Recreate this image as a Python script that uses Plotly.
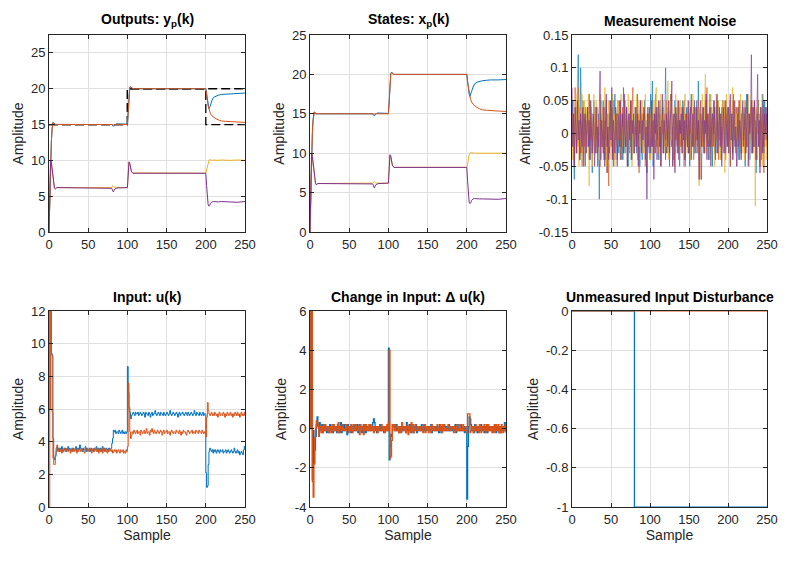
import plotly.graph_objects as go

# ---------------- data ----------------
samples_ticks = [0, 50, 100, 150, 200, 250]
samples_ticktext = ["0", "50", "100", "150", "200", "250"]

# key samples for the smooth output / state trajectories
k_key = [0, 1, 2, 3, 4, 5, 6, 7, 8, 9, 10,
         80, 81, 82, 83, 84, 86, 88,
         100, 101, 102, 103, 104, 105, 107, 110,
         200, 201, 202, 203, 204, 205, 206, 208, 210, 213, 216, 220, 225, 230, 240, 250]

y1 = [0, 5, 10, 12.6, 14.4, 15.3, 15.2, 15.05, 15.0, 15.0, 15.02,
      15.0, 14.85, 14.75, 14.9, 15.0, 15.1, 15.1,
      15.05, 16.6, 18.9, 20.2, 20.3, 20.15, 20.05, 20.0,
      20.0, 19.2, 18.2, 17.4, 17.2, 17.4, 17.8, 18.4, 18.8, 19.0, 19.1, 19.2, 19.25, 19.3, 19.35, 19.4]
y2 = [0, 5, 10, 12.6, 14.4, 15.3, 15.25, 15.05, 15.0, 15.02, 15.0,
      15.0, 14.95, 14.9, 15.0, 15.02, 15.0, 15.0,
      15.0, 16.6, 18.9, 20.2, 20.25, 20.1, 20.02, 20.0,
      20.0, 19.0, 18.2, 17.6, 17.2, 16.8, 16.5, 16.2, 16.0, 15.8, 15.65, 15.5, 15.45, 15.4, 15.35, 15.3]
y3 = [0, 5, 10, 9.7, 8.8, 7.6, 6.6, 6.1, 6.0, 6.1, 6.2,
      6.2, 6.45, 6.4, 6.3, 6.2, 6.25, 6.2,
      6.2, 8.0, 9.7, 9.6, 9.0, 8.5, 8.2, 8.25,
      8.2, 8.6, 9.3, 9.8, 10.0, 10.1, 10.05, 10.0, 10.05, 10.0, 10.0, 10.05, 10.0, 10.0, 10.05, 10.0]
y4 = [0, 5, 10, 9.7, 8.8, 7.6, 6.6, 6.1, 6.0, 6.1, 6.2,
      6.1, 5.7, 5.6, 5.8, 6.0, 6.1, 6.15,
      6.2, 8.0, 9.8, 9.6, 9.0, 8.5, 8.2, 8.2,
      8.2, 6.5, 4.8, 3.8, 3.6, 3.7, 4.0, 4.2, 4.25, 4.2, 4.2, 4.25, 4.2, 4.2, 4.15, 4.25]

x1 = [0, 5, 10, 12.5, 14.3, 15.2, 15.2, 15.0, 14.95, 15.0, 15.0,
      15.0, 14.8, 14.75, 14.85, 15.0, 15.1, 15.1,
      15.05, 16.5, 18.8, 20.1, 20.3, 20.15, 20.0, 20.0,
      20.0, 19.2, 18.2, 17.5, 17.2, 17.4, 17.8, 18.4, 18.8, 19.0, 19.1, 19.2, 19.25, 19.3, 19.3, 19.35]
x2 = [0, 5, 10, 12.5, 14.3, 15.2, 15.25, 15.05, 15.0, 15.0, 15.0,
      15.0, 14.95, 14.95, 15.0, 15.0, 15.0, 15.0,
      15.0, 16.5, 18.8, 20.1, 20.25, 20.1, 20.0, 20.0,
      20.0, 19.0, 18.2, 17.6, 17.2, 16.8, 16.5, 16.2, 16.0, 15.8, 15.65, 15.5, 15.45, 15.4, 15.35, 15.3]
x3 = [0, 5, 10, 9.6, 8.7, 7.6, 6.7, 6.2, 6.0, 6.05, 6.15,
      6.2, 6.4, 6.4, 6.3, 6.2, 6.2, 6.2,
      6.2, 8.0, 9.7, 9.6, 9.0, 8.5, 8.2, 8.2,
      8.2, 8.6, 9.3, 9.8, 10.0, 10.1, 10.05, 10.0, 10.0, 10.0, 10.0, 10.0, 10.0, 10.0, 10.0, 10.0]
x4 = [0, 5, 10, 9.6, 8.7, 7.6, 6.7, 6.2, 6.0, 6.05, 6.15,
      6.1, 5.7, 5.6, 5.8, 6.0, 6.1, 6.15,
      6.2, 8.0, 9.8, 9.6, 9.0, 8.5, 8.2, 8.2,
      8.2, 6.5, 4.8, 3.8, 3.6, 3.7, 4.0, 4.2, 4.25, 4.2, 4.2, 4.2, 4.2, 4.2, 4.15, 4.25]

# setpoints (stairs)
r_k = [0, 100, 200, 250]
r1 = [15, 20, 20, 20]
r2 = [15, 20, 15, 15]

# measurement noise, one value per sample k = 0..250
noise1 = [0.02, 0.05, -0.03, -0.07, 0.01, 0.04, -0.02, 0.06, 0.12, 0.03,
          -0.04, 0.10, 0.02, -0.03, 0.05, -0.01, 0.03, -0.05, 0.02, 0.00,
          0.04, -0.02, 0.06, -0.04, 0.01, 0.03, -0.06, 0.02, 0.05, -0.01,
          -0.03, 0.04, 0.00, -0.05, 0.03, -0.10, 0.02, 0.05, -0.02, 0.01,
          0.05, -0.04, 0.02, -0.01, 0.04, -0.06, 0.03, 0.00, -0.03, 0.05,
          0.01, -0.02, 0.04, -0.05, 0.02, 0.06, -0.01, 0.03, -0.04, 0.02,
          -0.03, 0.05, 0.01, -0.02, 0.03, -0.04, 0.07, 0.00, -0.03, 0.02,
          0.04, -0.01, -0.05, 0.03, 0.01, -0.02, 0.05, -0.04, 0.02, 0.00,
          -0.02, 0.04, 0.01, -0.03, 0.06, -0.01, 0.02, -0.05, 0.03, 0.01,
          -0.04, 0.03, 0.00, 0.05, -0.02, 0.02, -0.06, 0.04, 0.01, -0.03,
          0.02, 0.06, -0.02, 0.08, -0.05, 0.03, 0.01, -0.03, 0.04, -0.01,
          0.03, -0.04, 0.02, 0.05, -0.02, 0.00, 0.04, -0.03, 0.02, 0.01,
          0.10, -0.03, 0.04, -0.01, 0.02, -0.05, 0.03, 0.06, -0.02, 0.01,
          -0.04, 0.02, 0.05, -0.01, 0.03, -0.03, 0.00, 0.04, -0.05, 0.02,
          0.01, -0.02, 0.05, 0.03, -0.04, 0.02, -0.01, 0.04, 0.00, -0.03,
          0.03, -0.05, 0.02, 0.06, -0.02, 0.01, 0.04, -0.03, 0.02, -0.01,
          0.05, -0.02, 0.08, -0.04, 0.01, 0.03, -0.07, 0.02, 0.00, 0.04,
          -0.03, 0.02, 0.05, -0.01, 0.03, -0.04, 0.02, 0.06, -0.02, 0.01,
          -0.05, 0.03, 0.00, 0.04, -0.02, 0.02, -0.03, 0.05, 0.01, -0.01,
          0.03, -0.04, 0.02, 0.05, 0.00, -0.02, 0.04, -0.03, 0.01, 0.02,
          -0.02, 0.04, 0.01, -0.05, 0.03, 0.02, -0.03, 0.06, -0.01, 0.02,
          0.04, -0.02, 0.03, 0.00, -0.04, 0.05, 0.01, -0.03, 0.02, 0.04,
          -0.01, 0.03, -0.05, 0.02, 0.06, -0.02, 0.01, 0.03, -0.04, 0.02,
          0.05, -0.03, 0.01, 0.04, -0.02, 0.02, -0.06, 0.03, 0.00, 0.05,
          -0.02, 0.03, 0.01, -0.04, 0.06, 0.02, -0.03, 0.05, -0.01, 0.03,
          0.01]
noise2 = [-0.02, 0.03, 0.01, -0.04, 0.07, 0.02, -0.03, 0.05, 0.07, -0.02,
          0.04, -0.03, 0.02, -0.05, 0.03, 0.01, -0.02, 0.04, -0.03, 0.02,
          0.00, 0.03, -0.04, 0.05, -0.01, 0.02, -0.03, 0.01, 0.04, -0.02,
          0.03, -0.01, 0.04, -0.03, 0.02, 0.00, -0.05, 0.03, 0.01, -0.02,
          0.04, -0.03, 0.02, -0.04, 0.05, -0.06, 0.01, -0.08, 0.03, 0.00,
          -0.02, 0.04, -0.03, 0.05, 0.01, -0.04, 0.02, 0.03, -0.02, 0.05,
          -0.01, 0.02, -0.04, 0.03, 0.00, 0.04, -0.03, 0.01, 0.05, -0.02,
          0.03, -0.05, 0.02, 0.01, -0.03, 0.04, -0.01, 0.02, 0.07, -0.03,
          0.01, -0.02, 0.04, 0.00, -0.04, 0.03, -0.06, 0.02, 0.05, -0.01,
          0.03, -0.03, 0.02, 0.04, -0.05, 0.01, 0.00, -0.02, 0.03, 0.01,
          -0.04, 0.02, 0.05, -0.01, 0.03, -0.03, 0.02, 0.06, -0.02, 0.00,
          0.04, -0.03, 0.01, 0.03, -0.05, 0.02, 0.00, 0.04, -0.02, 0.03,
          -0.01, 0.05, -0.03, 0.02, 0.01, -0.04, 0.03, 0.06, -0.02, 0.01,
          0.03, -0.05, 0.02, 0.04, -0.01, 0.02, -0.03, 0.05, 0.00, -0.02,
          0.04, 0.01, -0.03, 0.02, 0.05, -0.04, 0.01, 0.03, -0.02, 0.04,
          -0.03, 0.02, 0.00, 0.05, -0.02, 0.03, -0.04, 0.01, 0.04, -0.01,
          0.02, -0.03, 0.05, 0.01, -0.07, 0.03, 0.02, -0.02, 0.04, 0.00,
          -0.03, 0.05, 0.01, 0.07, -0.02, 0.03, -0.04, 0.02, 0.00, 0.04,
          -0.02, 0.03, 0.05, -0.03, 0.01, 0.04, -0.01, 0.02, -0.04, 0.03,
          0.01, -0.02, 0.04, 0.02, -0.03, 0.05, 0.00, -0.04, 0.03, 0.01,
          0.04, -0.02, 0.03, -0.05, 0.02, 0.01, 0.05, -0.03, 0.02, 0.00,
          -0.03, 0.04, 0.02, -0.01, 0.05, -0.04, 0.02, 0.03, -0.02, 0.01,
          0.03, -0.03, 0.05, 0.00, -0.02, 0.04, 0.01, -0.04, 0.03, 0.02,
          -0.01, 0.04, -0.03, 0.02, 0.05, -0.02, 0.01, -0.04, 0.03, 0.00,
          0.02, -0.05, 0.04, 0.01, -0.03, 0.03, -0.06, 0.02, 0.04, -0.02,
          0.03]
noise3 = [0.03, -0.04, 0.05, 0.01, -0.03, 0.06, -0.01, 0.09, 0.02, -0.05,
          0.04, -0.02, 0.03, 0.06, -0.04, 0.01, 0.05, -0.03, 0.02, 0.04,
          -0.02, 0.06, -0.08, 0.03, 0.01, 0.04, -0.05, 0.02, 0.06, -0.03,
          0.01, 0.05, -0.02, 0.04, 0.00, -0.04, 0.03, 0.06, -0.02, 0.01,
          0.04, -0.03, 0.07, 0.02, -0.05, 0.03, 0.00, 0.05, -0.02, 0.04,
          -0.04, 0.02, 0.06, -0.01, 0.03, -0.05, 0.04, 0.01, -0.02, 0.05,
          0.02, -0.03, 0.04, 0.06, -0.02, 0.01, -0.04, 0.05, 0.02, -0.01,
          0.03, -0.04, 0.06, 0.01, -0.02, 0.05, 0.00, -0.05, 0.03, 0.02,
          -0.03, 0.04, 0.01, 0.06, -0.04, 0.02, 0.05, -0.02, 0.03, -0.01,
          0.05, -0.03, 0.02, 0.00, 0.06, -0.05, 0.03, 0.01, -0.02, 0.04,
          0.02, -0.04, 0.06, 0.01, -0.03, 0.05, -0.01, 0.03, 0.07, -0.02,
          0.04, 0.00, -0.04, 0.03, 0.06, -0.02, 0.02, 0.05, -0.03, 0.01,
          0.06, -0.02, 0.03, 0.08, -0.04, 0.02, 0.05, -0.01, 0.03, -0.05,
          0.02, 0.04, -0.03, 0.06, 0.01, -0.02, 0.04, 0.00, -0.04, 0.05,
          0.03, -0.01, 0.02, -0.05, 0.04, 0.06, -0.03, 0.01, 0.03, -0.02,
          0.05, 0.01, -0.04, 0.03, 0.00, 0.06, -0.02, 0.04, -0.03, 0.02,
          -0.01, 0.05, 0.02, -0.08, 0.04, 0.01, -0.03, 0.06, 0.02, -0.02,
          0.04, 0.09, -0.03, 0.02, 0.05, -0.01, 0.03, -0.04, 0.06, 0.01,
          -0.02, 0.04, 0.02, -0.05, 0.03, 0.06, 0.00, -0.03, 0.05, 0.02,
          -0.04, 0.03, 0.01, 0.05, -0.02, 0.04, -0.06, 0.02, 0.06, 0.00,
          0.03, -0.03, 0.05, 0.01, -0.02, 0.04, 0.07, -0.04, 0.02, 0.05,
          -0.01, 0.03, -0.05, 0.04, 0.02, -0.02, 0.06, 0.01, -0.03, 0.04,
          0.02, -0.04, 0.05, 0.00, 0.03, -0.02, 0.06, -0.05, 0.02, 0.04,
          -0.03, 0.01, 0.05, -0.02, 0.03, -0.11, 0.04, 0.02, -0.04, 0.05,
          0.01, -0.03, 0.04, 0.02, -0.05, 0.06, 0.00, -0.02, 0.03, -0.04,
          0.02]
noise4 = [0.07, -0.02, 0.03, -0.05, 0.04, 0.01, -0.03, 0.05, -0.01, 0.02,
          -0.04, 0.03, 0.00, -0.02, 0.04, -0.05, 0.02, 0.03, -0.03, 0.01,
          0.04, -0.02, 0.02, -0.04, 0.05, 0.00, -0.03, 0.03, 0.01, -0.05,
          0.02, 0.04, -0.03, 0.01, -0.02, 0.05, 0.095, -0.04, 0.02, 0.00,
          -0.03, 0.04, -0.05, 0.02, 0.06, -0.02, 0.01, -0.04, 0.03, 0.05,
          -0.01, 0.07, -0.04, 0.02, 0.00, -0.03, 0.04, 0.01, -0.05, 0.03,
          0.02, -0.02, 0.05, -0.04, 0.01, 0.03, -0.03, 0.06, 0.00, -0.02,
          0.04, -0.05, 0.02, 0.03, -0.01, 0.05, -0.04, 0.02, 0.00, 0.03,
          -0.03, 0.01, 0.04, -0.02, 0.03, -0.05, 0.02, 0.00, 0.05, -0.03,
          0.02, -0.01, 0.04, 0.03, -0.04, 0.01, -0.10, 0.03, -0.02, 0.04,
          0.01, -0.03, 0.05, -0.02, 0.02, -0.07, 0.03, 0.00, 0.04, -0.04,
          0.02, 0.05, -0.02, 0.01, -0.05, 0.03, 0.06, -0.03, 0.02, 0.00,
          -0.04, 0.03, 0.01, -0.02, 0.05, -0.03, 0.02, 0.04, 0.08, -0.05,
          0.02, 0.03, -0.06, 0.04, 0.01, -0.02, 0.05, -0.04, 0.02, 0.00,
          0.03, -0.03, 0.04, -0.01, 0.02, -0.05, 0.03, 0.01, -0.02, 0.05,
          -0.03, 0.02, 0.04, -0.04, 0.01, 0.03, -0.02, 0.05, 0.00, -0.03,
          0.04, -0.01, 0.02, -0.07, 0.03, 0.05, -0.02, 0.01, 0.04, -0.03,
          0.02, 0.00, 0.06, -0.04, 0.03, 0.01, -0.02, 0.04, -0.05, 0.02,
          0.03, -0.02, 0.05, 0.01, -0.04, 0.02, 0.06, -0.03, 0.01, 0.04,
          -0.02, 0.03, -0.05, 0.02, 0.04, 0.00, -0.03, 0.05, 0.01, -0.02,
          0.04, -0.03, 0.02, 0.06, -0.01, 0.03, -0.04, 0.02, 0.05, -0.02,
          0.01, -0.05, 0.03, 0.04, -0.02, 0.02, 0.00, -0.04, 0.03, 0.05,
          -0.02, 0.01, 0.04, -0.03, 0.02, 0.06, -0.05, 0.03, 0.00, 0.02,
          0.12, -0.03, 0.04, -0.02, 0.05, 0.01, -0.04, 0.03, 0.09, -0.02,
          0.02, -0.06, 0.04, 0.01, -0.03, 0.05, -0.02, 0.03, 0.00, 0.04,
          -0.01]

# manipulated inputs u(k), k = 0..250
u1 = [6.0, 12.0, 12.0, 9.4, 9.3, 4.2, 3.0, 2.9, 3.1, 3.4,
      3.7, 3.5, 3.6, 3.4, 3.6, 3.5, 3.7, 3.5, 3.4, 3.6,
      3.5, 3.6, 3.4, 3.5, 3.7, 3.5, 3.6, 3.4, 3.5, 3.6,
      3.4, 3.6, 3.5, 3.5, 3.7, 3.4, 3.5, 3.6, 3.5, 3.8,
      3.6, 3.5, 3.4, 3.6, 3.5, 3.5, 3.7, 3.4, 3.6, 3.5,
      3.5, 3.6, 3.4, 3.5, 3.6, 3.5, 3.4, 3.6, 3.5, 3.5,
      3.7, 3.5, 3.4, 3.6, 3.5, 3.6, 3.4, 3.5, 3.7, 3.5,
      3.6, 3.4, 3.5, 3.6, 3.5, 3.4, 3.6, 3.5, 3.5, 3.6,
      3.9, 4.2, 4.7, 4.6, 4.7, 4.5, 4.6, 4.6, 4.5, 4.7,
      4.6, 4.5, 4.6, 4.7, 4.5, 4.6, 4.5, 4.6, 4.5, 4.6,
      8.6, 7.0, 6.1, 5.8, 5.4, 5.6, 5.7, 5.8, 5.7, 5.6,
      5.8, 5.7, 5.7, 5.8, 5.6, 5.7, 5.8, 5.7, 5.6, 5.7,
      5.8, 5.7, 5.5, 5.8, 5.7, 5.7, 5.6, 5.8, 5.7, 5.5,
      5.7, 5.8, 5.6, 5.7, 5.7, 5.9, 5.7, 5.6, 5.7, 5.8,
      5.7, 5.6, 5.8, 5.7, 5.7, 5.6, 5.8, 5.7, 5.6, 5.7,
      5.8, 5.7, 5.6, 5.7, 5.9, 5.7, 5.6, 5.7, 5.8, 5.7,
      5.6, 5.7, 5.8, 5.7, 5.5, 5.7, 5.8, 5.6, 5.7, 5.7,
      5.8, 5.7, 5.6, 5.7, 5.8, 5.7, 5.6, 5.8, 5.7, 5.6,
      5.7, 5.8, 5.7, 5.6, 5.7, 5.9, 5.7, 5.6, 5.8, 5.7,
      5.7, 5.6, 5.8, 5.7, 5.6, 5.7, 5.8, 5.6, 5.7, 5.7,
      2.1, 1.2, 1.3, 2.6, 3.4, 3.6, 3.5, 3.4, 3.5, 3.3,
      3.5, 3.4, 3.5, 3.3, 3.4, 3.5, 3.4, 3.3, 3.5, 3.4,
      3.4, 3.5, 3.3, 3.4, 3.4, 3.5, 3.3, 3.4, 3.5, 3.4,
      3.3, 3.4, 3.5, 3.4, 3.3, 3.4, 3.6, 3.4, 3.3, 3.4,
      3.5, 3.3, 3.4, 3.2, 3.3, 3.4, 3.3, 3.2, 3.5, 3.7,
      3.5]
u2 = [0.0, 6.0, 12.0, 9.3, 5.8, 3.0, 2.6, 2.6, 3.2, 3.6,
      3.8, 3.4, 3.5, 3.6, 3.4, 3.5, 3.3, 3.5, 3.4, 3.6,
      3.5, 3.4, 3.5, 3.6, 3.4, 3.5, 3.5, 3.3, 3.5, 3.4,
      3.6, 3.5, 3.4, 3.5, 3.5, 3.3, 3.6, 3.4, 3.5, 3.5,
      3.4, 3.6, 3.5, 3.5, 3.4, 3.3, 3.5, 3.5, 3.6, 3.4,
      3.5, 3.4, 3.6, 3.5, 3.3, 3.5, 3.5, 3.4, 3.6, 3.5,
      3.4, 3.5, 3.6, 3.3, 3.5, 3.4, 3.5, 3.6, 3.3, 3.5,
      3.4, 3.6, 3.5, 3.4, 3.3, 3.5, 3.4, 3.6, 3.5, 3.4,
      3.5, 3.3, 3.4, 3.5, 3.4, 3.5, 3.3, 3.4, 3.5, 3.4,
      3.3, 3.5, 3.4, 3.4, 3.5, 3.3, 3.4, 3.3, 3.5, 3.4,
      3.7, 7.6, 6.0, 4.6, 4.2, 4.4, 4.6, 4.5, 4.7, 4.6,
      4.5, 4.6, 4.7, 4.5, 4.6, 4.6, 4.4, 4.7, 4.6, 4.5,
      4.6, 4.7, 4.5, 4.6, 4.8, 4.5, 4.6, 4.6, 4.4, 4.7,
      4.6, 4.8, 4.6, 4.5, 4.7, 4.6, 4.5, 4.6, 4.7, 4.6,
      4.5, 4.6, 4.7, 4.6, 4.4, 4.6, 4.7, 4.5, 4.6, 4.6,
      4.7, 4.5, 4.6, 4.6, 4.4, 4.6, 4.7, 4.6, 4.5, 4.6,
      4.6, 4.5, 4.7, 4.6, 4.6, 4.5, 4.7, 4.6, 4.4, 4.6,
      4.5, 4.7, 4.6, 4.6, 4.5, 4.4, 4.6, 4.7, 4.6, 4.5,
      4.6, 4.6, 4.7, 4.5, 4.6, 4.6, 4.5, 4.7, 4.6, 4.6,
      4.5, 4.7, 4.6, 4.6, 4.5, 4.7, 4.6, 4.5, 4.6, 4.5,
      4.3, 5.5, 6.4, 5.9, 5.7, 5.6, 5.7, 5.8, 5.6, 5.7,
      5.6, 5.8, 5.7, 5.6, 5.7, 5.5, 5.7, 5.8, 5.6, 5.7,
      5.7, 5.6, 5.8, 5.7, 5.5, 5.7, 5.6, 5.8, 5.7, 5.6,
      5.7, 5.8, 5.6, 5.7, 5.5, 5.7, 5.6, 5.8, 5.7, 5.6,
      5.8, 5.6, 5.7, 5.5, 5.7, 5.8, 5.6, 5.7, 5.6, 5.8,
      5.6]

# input increments du(k), k = 0..250
du1 = [0.0, 6.0, 0.0, -2.6, -0.1, -1.8, -1.1, -0.4, 0.2, 0.6,
       0.1, -0.2, 0.3, 0.0, -0.1, 0.2, -0.2, 0.1, -0.1, 0.2,
       0.0, -0.2, 0.1, 0.1, -0.2, 0.2, -0.1, 0.0, 0.1, -0.2,
       0.2, -0.1, 0.0, 0.1, -0.2, 0.2, -0.1, 0.1, -0.2, 0.3,
       -0.2, 0.0, -0.1, 0.2, -0.1, 0.0, 0.2, -0.3, 0.2, -0.1,
       0.0, 0.1, -0.2, 0.1, 0.1, -0.1, -0.1, 0.2, -0.1, 0.0,
       0.2, -0.2, -0.1, 0.2, -0.1, 0.1, -0.2, 0.1, 0.2, -0.2,
       0.1, -0.2, 0.1, 0.1, -0.1, -0.1, 0.2, -0.1, 0.0, 0.1,
       0.3, 0.5, 0.3, -0.1, 0.1, -0.2, 0.1, 0.0, -0.1, 0.2,
       -0.1, -0.1, 0.1, 0.1, -0.2, 0.1, -0.1, 0.1, -0.1, 0.1,
       4.1, -1.6, -0.9, -0.3, -0.4, 0.2, 0.1, 0.1, -0.1, -0.1,
       0.2, -0.1, 0.0, 0.1, -0.2, 0.1, 0.1, -0.1, -0.1, 0.1,
       0.1, -0.1, -0.2, 0.3, -0.1, 0.0, -0.1, 0.2, -0.1, -0.2,
       0.2, 0.1, -0.2, 0.1, 0.0, 0.2, -0.2, -0.1, 0.1, 0.1,
       -0.1, -0.1, 0.2, -0.1, 0.0, -0.1, 0.2, -0.1, -0.1, 0.1,
       0.1, -0.1, -0.1, 0.1, 0.2, -0.2, -0.1, 0.1, 0.1, -0.1,
       -0.1, 0.1, 0.1, -0.1, -0.2, 0.2, 0.1, -0.2, 0.1, 0.0,
       0.1, -0.1, -0.1, 0.1, 0.1, -0.1, -0.1, 0.2, -0.1, -0.1,
       0.1, 0.1, -0.1, -0.1, 0.1, 0.2, -0.2, -0.1, 0.2, -0.1,
       0.0, -0.1, 0.2, -0.1, -0.1, 0.1, 0.1, -0.2, 0.1, 0.0,
       -3.6, -0.9, 0.1, 0.6, 0.5, 0.2, -0.1, -0.1, 0.1, -0.2,
       0.2, -0.1, 0.1, -0.2, 0.1, 0.1, -0.1, -0.1, 0.2, -0.1,
       0.0, 0.1, -0.2, 0.1, 0.0, 0.1, -0.2, 0.1, 0.1, -0.1,
       -0.1, 0.1, 0.1, -0.1, -0.1, 0.1, 0.2, -0.2, -0.1, 0.1,
       0.1, -0.2, 0.1, -0.2, 0.1, 0.1, -0.1, -0.1, 0.3, 0.2,
       -0.2]
du2 = [0.0, 6.0, 6.0, -2.7, -3.5, -1.8, -0.5, 0.0, 0.4, 0.3,
       0.2, -0.4, 0.1, 0.1, -0.2, 0.1, -0.2, 0.2, -0.1, 0.2,
       -0.1, -0.1, 0.1, 0.1, -0.2, 0.1, 0.0, -0.2, 0.2, -0.1,
       0.2, -0.1, -0.1, 0.1, 0.0, -0.2, 0.3, -0.2, 0.1, 0.0,
       -0.1, 0.2, -0.1, 0.0, -0.1, -0.1, 0.2, 0.0, 0.1, -0.2,
       0.1, -0.1, 0.2, -0.1, -0.2, 0.2, 0.0, -0.1, 0.2, -0.1,
       -0.1, 0.1, 0.1, -0.3, 0.2, -0.1, 0.1, 0.1, -0.3, 0.2,
       -0.1, 0.2, -0.1, -0.1, -0.1, 0.2, -0.1, 0.2, -0.1, -0.1,
       0.1, -0.2, 0.1, 0.1, -0.1, 0.1, -0.2, 0.1, 0.1, -0.1,
       -0.1, 0.2, -0.1, 0.0, 0.1, -0.2, 0.1, -0.1, 0.2, -0.1,
       0.3, 4.0, -1.5, -1.4, -0.6, 0.2, 0.2, -0.1, 0.2, -0.1,
       -0.1, 0.1, 0.1, -0.2, 0.1, 0.0, -0.2, 0.3, -0.1, -0.1,
       0.1, 0.1, -0.2, 0.1, 0.2, -0.3, 0.1, 0.0, -0.2, 0.3,
       -0.1, 0.2, -0.2, -0.1, 0.2, -0.1, -0.1, 0.1, 0.1, -0.1,
       -0.1, 0.1, 0.1, -0.1, -0.2, 0.2, 0.1, -0.2, 0.1, 0.0,
       0.1, -0.2, 0.1, 0.0, -0.2, 0.2, 0.1, -0.1, -0.1, 0.1,
       0.0, -0.1, 0.2, -0.1, 0.0, -0.1, 0.2, -0.1, -0.2, 0.2,
       -0.1, 0.2, -0.1, 0.0, -0.1, -0.1, 0.2, 0.1, -0.1, -0.1,
       0.1, 0.0, 0.1, -0.2, 0.1, 0.0, -0.1, 0.2, -0.1, 0.0,
       -0.1, 0.2, -0.1, 0.0, -0.1, 0.2, -0.1, -0.1, 0.1, -0.1,
       -0.2, 0.75, 0.75, 0.75, -0.2, -0.1, 0.1, 0.1, -0.2, 0.1,
       -0.1, 0.2, -0.1, -0.1, 0.1, -0.2, 0.2, 0.1, -0.2, 0.1,
       0.0, -0.1, 0.2, -0.1, -0.2, 0.2, -0.1, 0.2, -0.1, -0.1,
       0.1, 0.1, -0.2, 0.1, -0.2, 0.2, -0.1, 0.2, -0.1, -0.1,
       0.2, -0.2, 0.1, -0.2, 0.2, 0.1, -0.2, 0.1, -0.1, 0.2,
       -0.2]

# unmeasured input disturbance (stairs)
dist_k = [0, 80, 250]
dist1 = [0, -1, -1]
dist2 = [0, 0, 0]

titles = ["<b>Outputs: y<sub>p</sub>(k)</b>", "<b>States: x<sub>p</sub>(k)</b>",
          "<b>Measurement Noise</b>", "<b>Input: u(k)</b>",
          "<b>Change in Input: \u0394 u(k)</b>", "<b>Unmeasured Input Disturbance</b>"]

y_ranges = [[0, 27.5], [0, 25], [-0.15, 0.15], [0, 12], [-4, 6], [-1, 0]]
y_tickvals = [[0, 5, 10, 15, 20, 25], [0, 5, 10, 15, 20, 25],
              [-0.15, -0.1, -0.05, 0, 0.05, 0.1, 0.15],
              [0, 2, 4, 6, 8, 10, 12], [-4, -2, 0, 2, 4, 6],
              [-1, -0.8, -0.6, -0.4, -0.2, 0]]
y_ticktext = [["0", "5", "10", "15", "20", "25"], ["0", "5", "10", "15", "20", "25"],
              ["-0.15", "-0.1", "-0.05", "0", "0.05", "0.1", "0.15"],
              ["0", "2", "4", "6", "8", "10", "12"], ["-4", "-2", "0", "2", "4", "6"],
              ["-1", "-0.8", "-0.6", "-0.4", "-0.2", "0"]]

# ---------------- styling ----------------
C_BLUE, C_ORANGE, C_YELLOW, C_PURPLE = "#0072BD", "#D95319", "#EDB120", "#7E2F8E"
FONT = "Liberation Sans, Arial, Helvetica, sans-serif"
AXC = "#262626"
W, H = 793, 564
COLS = [(49, 245), (310, 506), (572, 767)]
ROWS = [(35, 232), (311, 507)]

fig = go.Figure()


def ax_names(i):
    return ("x" if i == 0 else f"x{i+1}", "y" if i == 0 else f"y{i+1}")


def add_line(i, xs, ys, color, width=1.0, shape="linear", dash="solid", opacity=1.0):
    xa, ya = ax_names(i)
    fig.add_trace(go.Scatter(x=xs, y=ys, xaxis=xa, yaxis=ya, mode="lines",
                             line=dict(color=color, width=width, shape=shape, dash=dash),
                             opacity=opacity, showlegend=False, hoverinfo="skip"))


def kr(vals):
    return list(range(len(vals)))


# panel 1: outputs (setpoints underneath)
add_line(0, r_k, r1, "#000000", 1.3, "hv", "9px,4px")
add_line(0, r_k, r2, "#000000", 1.3, "hv", "9px,4px")
for s, c in zip([y1, y2, y3, y4], [C_BLUE, C_ORANGE, C_YELLOW, C_PURPLE]):
    add_line(0, k_key, s, c, 1.0)

# panel 2: states
for s, c in zip([x1, x2, x3, x4], [C_BLUE, C_ORANGE, C_YELLOW, C_PURPLE]):
    add_line(1, k_key, s, c, 1.0)

# panel 3: noise
for s, c in zip([noise1, noise2, noise3, noise4], [C_BLUE, C_ORANGE, C_YELLOW, C_PURPLE]):
    add_line(2, kr(s), s, c, 0.8, opacity=0.85)

# panel 4: inputs
add_line(3, kr(u1), u1, C_BLUE, 1.0, "hv")
add_line(3, kr(u2), u2, C_ORANGE, 1.0, "hv")

# panel 5: input increments
add_line(4, kr(du1), du1, C_BLUE, 1.3, "hv")
add_line(4, kr(du2), du2, C_ORANGE, 1.3, "hv")

# panel 6: disturbance
add_line(5, dist_k, dist1, C_BLUE, 1.2, "hv")
add_line(5, dist_k, dist2, C_ORANGE, 1.2, "hv")

common = dict(showline=True, linecolor=AXC, linewidth=1, mirror="ticks",
              ticks="inside", ticklen=4, tickwidth=1, tickcolor=AXC,
              showgrid=True, gridcolor="#e0e0e0", gridwidth=1, zeroline=False,
              tickfont=dict(family=FONT, size=13, color=AXC), automargin=False)

layout = dict(width=W, height=H, margin=dict(l=0, r=0, t=0, b=0),
              paper_bgcolor="white", plot_bgcolor="white",
              font=dict(family=FONT, color=AXC), showlegend=False)
annotations = []
for i in range(6):
    r, c = divmod(i, 3)
    x0, x1p = COLS[c]
    y0, y1p = ROWS[r]
    xd = [x0 / W, x1p / W]
    yd = [1 - y1p / H, 1 - y0 / H]
    xa, ya = ax_names(i)
    xkey = "xaxis" if i == 0 else f"xaxis{i+1}"
    ykey = "yaxis" if i == 0 else f"yaxis{i+1}"
    xax = dict(common, domain=xd, anchor=ya, range=[0, 250],
               tickvals=samples_ticks, ticktext=samples_ticktext)
    if r == 1:
        xax["title"] = dict(text="Sample", font=dict(family=FONT, size=14, color=AXC), standoff=3)
    yax = dict(common, domain=yd, anchor=xa, range=y_ranges[i],
               tickvals=y_tickvals[i], ticktext=y_ticktext[i],
               title=dict(text="Amplitude", font=dict(family=FONT, size=14, color=AXC), standoff=4))
    layout[xkey] = xax
    layout[ykey] = yax
    annotations.append(dict(text=titles[i], x=(xd[0] + xd[1]) / 2, y=yd[1],
                            xref="paper", yref="paper", xanchor="center", yanchor="bottom",
                            yshift=4, showarrow=False,
                            font=dict(family=FONT, size=14, color="#000000")))
layout["annotations"] = annotations
fig.update_layout(**layout)

fig.write_html("out.html")
